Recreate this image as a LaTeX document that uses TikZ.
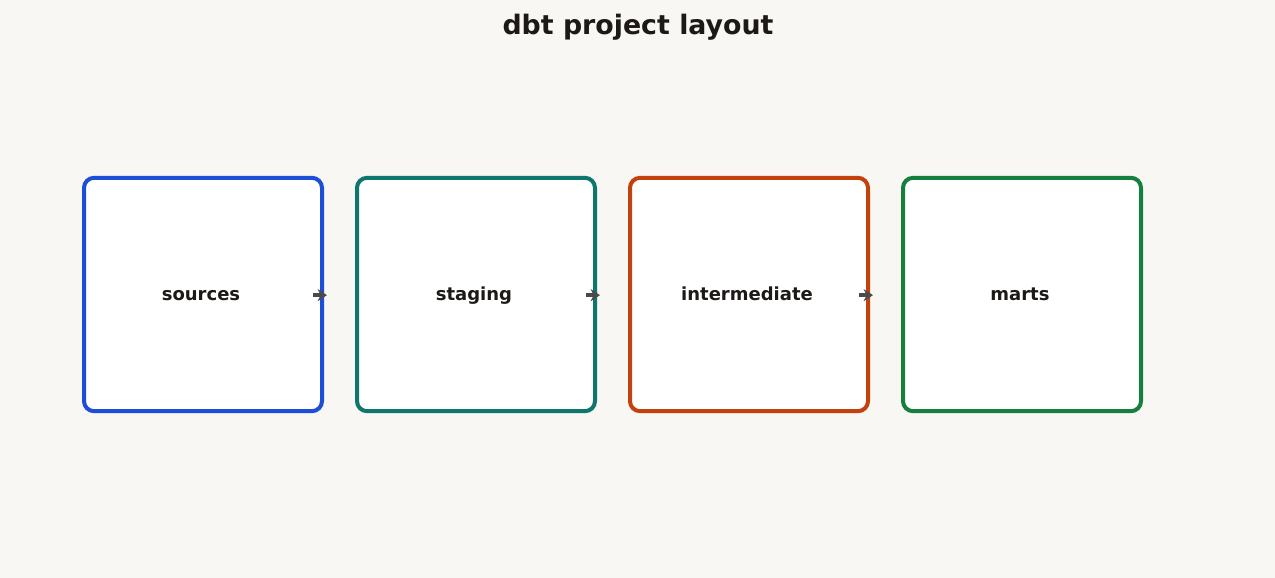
\documentclass[tikz,border=0pt]{standalone}
\usepackage{fontspec}
\setmainfont{DejaVu Sans}
\usetikzlibrary{arrows.meta}
\definecolor{bg}{HTML}{F8F7F4}
\definecolor{cblue}{HTML}{1D4ED8}
\definecolor{cteal}{HTML}{0F766E}
\definecolor{corange}{HTML}{C2410C}
\definecolor{cgreen}{HTML}{15803D}
\definecolor{ink}{HTML}{1C1917}
\definecolor{arrc}{HTML}{4A4A4A}
\tikzset{
  layer/.style={draw=#1, line width=3pt, fill=white, rounded corners=7.5pt,
    minimum width=178.5pt, minimum height=175pt, inner sep=0pt},
  lbl/.style={font=\bfseries\fontsize{13.5pt}{16pt}\selectfont, text=ink, anchor=base},
  arr/.style={draw=arrc, line width=2.6pt, -{Stealth[length=7pt,width=9pt]}}
}
\begin{document}
\begin{tikzpicture}[x=0.75pt,y=-0.75pt]
\fill[bg] (0,0) rectangle (1275,578);
\useasboundingbox (0,0) rectangle (1275,578);
\node[font=\bfseries\fontsize{20.1pt}{24pt}\selectfont, text=ink] (title) at (638,27) {dbt project layout};
\node[layer=cblue] (s) at (203,294.5) {};
\node[layer=cteal] (t) at (476,294.5) {};
\node[layer=corange] (i) at (749,294.5) {};
\node[layer=cgreen] (m) at (1022,294.5) {};
\node[lbl] (sl) at (201,300) {sources};
\node[lbl] (tl) at (474,300) {staging};
\node[lbl] (il) at (747,300) {intermediate};
\node[lbl] (ml) at (1020,300) {marts};
\draw[arr] ([xshift=-8pt,yshift=-0.5pt]s.east) -- ([xshift=-21pt,yshift=-0.5pt]t.west);
\draw[arr] ([xshift=-8pt,yshift=-0.5pt]t.east) -- ([xshift=-21pt,yshift=-0.5pt]i.west);
\draw[arr] ([xshift=-8pt,yshift=-0.5pt]i.east) -- ([xshift=-21pt,yshift=-0.5pt]m.west);
\end{tikzpicture}
\end{document}
